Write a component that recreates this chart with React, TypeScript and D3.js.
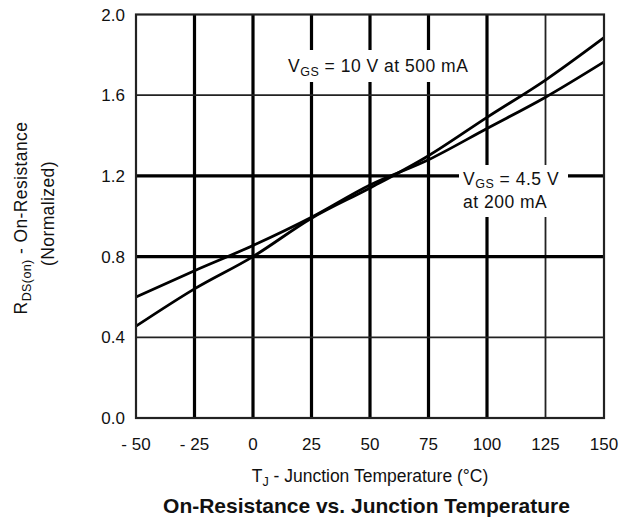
import React from "react";
import * as d3 from "d3";

const TEMPS = [-50, -25, 0, 25, 50, 75, 100, 125, 150];
const R_VGS_45V = [0.6, 0.73, 0.855, 0.995, 1.155, 1.28, 1.435, 1.59, 1.765];
const R_VGS_10V = [0.455, 0.64, 0.8, 0.99, 1.14, 1.3, 1.49, 1.675, 1.885];
const X_TICKS = [-50, -25, 0, 25, 50, 75, 100, 125, 150];
const X_TICK_LABELS = ["- 50", "- 25", "0", "25", "50", "75", "100", "125", "150"];
const Y_TICKS = [0, 0.4, 0.8, 1.2, 1.6, 2.0];
const Y_TICK_LABELS = ["0.0", "0.4", "0.8", "1.2", "1.6", "2.0"];

const FONT = "'Liberation Sans', Arial, Helvetica, sans-serif";

export default function App() {
  const W = 632;
  const H = 520;
  const x = d3.scaleLinear().domain([-50, 150]).range([136, 604]);
  const y = d3.scaleLinear().domain([0, 2]).range([418, 14.5]);

  const line = d3
    .line<number>()
    .x((_, i) => x(TEMPS[i]))
    .y((d) => y(d))
    .curve(d3.curveMonotoneX);

  const thickX = new Set([-25, 0, 25, 50, 75, 100]);
  const thickY = new Set([0.8, 1.2]);

  return (
    <svg
      width={W}
      height={H}
      style={{ position: "absolute", left: 0, top: 0, background: "#fff" }}
      fontFamily={FONT}
    >
      <rect x={0} y={0} width={W} height={H} fill="#fff" />
      {/* vertical grid */}
      {X_TICKS.slice(1, -1).map((t) => (
        <line
          key={"vx" + t}
          x1={x(t)}
          x2={x(t)}
          y1={y(2)}
          y2={y(0)}
          stroke={thickX.has(t) ? "#000" : "#222"}
          strokeWidth={thickX.has(t) ? 3.2 : 1.8}
        />
      ))}
      {/* horizontal grid */}
      {Y_TICKS.slice(1, -1).map((t) => (
        <line
          key={"hy" + t}
          x1={x(-50)}
          x2={x(150)}
          y1={y(t)}
          y2={y(t)}
          stroke={thickY.has(t) ? "#000" : "#222"}
          strokeWidth={thickY.has(t) ? 3.2 : 1.8}
        />
      ))}
      {/* annotation backgrounds */}
      <rect x={280} y={50} width={202} height={32} fill="#fff" />
      <rect x={459} y={165} width={109} height={52} fill="#fff" />

      {/* data lines */}
      <path d={line(R_VGS_45V) || ""} fill="none" stroke="#000" strokeWidth={2.8} />
      <path d={line(R_VGS_10V) || ""} fill="none" stroke="#000" strokeWidth={2.8} />

      {/* border */}
      <rect
        x={x(-50)}
        y={y(2)}
        width={x(150) - x(-50)}
        height={y(0) - y(2)}
        fill="none"
        stroke="#222"
        strokeWidth={2.2}
      />

      {/* annotations */}
      <text x={288} y={71.5} fontSize={17.5} letterSpacing={0.5} fill="#111">
        V
        <tspan fontSize={12.5} dy={4}>GS</tspan>
        <tspan dy={-4}> = 10 V at 500 mA</tspan>
      </text>
      <text x={463} y={185} fontSize={17.5} letterSpacing={0.5} fill="#111">
        V
        <tspan fontSize={12.5} dy={3}>GS</tspan>
        <tspan dy={-3}> = 4.5 V</tspan>
      </text>
      <text x={463} y={207.5} fontSize={17.5} letterSpacing={0.5} fill="#111">
        at 200 mA
      </text>

      {/* y ticks */}
      {Y_TICKS.map((t, i) => (
        <text
          key={"yt" + t}
          x={125}
          y={y(t)}
          dy="0.36em"
          textAnchor="end"
          fontSize={17}
          fill="#111"
        >
          {Y_TICK_LABELS[i]}
        </text>
      ))}
      {/* x ticks */}
      {X_TICKS.map((t, i) => (
        <text
          key={"xt" + t}
          x={x(t)}
          y={449.5}
          textAnchor="middle"
          fontSize={17}
          fill="#111"
        >
          {X_TICK_LABELS[i]}
        </text>
      ))}

      {/* x axis title */}
      <text x={370} y={482} textAnchor="middle" fontSize={17.5} fill="#111">
        T
        <tspan fontSize={12.5} dy={4}>J</tspan>
        <tspan dy={-4}> - Junction Temperature (°C)</tspan>
      </text>

      {/* y axis title */}
      <text
        transform="translate(26.5,218) rotate(-90)"
        textAnchor="middle"
        fontSize={17.5}
        letterSpacing={0.4}
        fill="#111"
      >
        R
        <tspan fontSize={12.5} dy={4}>DS(on)</tspan>
        <tspan dy={-4}> - On-Resistance</tspan>
      </text>
      <text
        transform="translate(54,213.5) rotate(-90)"
        textAnchor="middle"
        fontSize={17.5}
        letterSpacing={0.4}
        fill="#111"
      >
        (Normalized)
      </text>

      {/* chart title */}
      <text
        x={366.5}
        y={513}
        textAnchor="middle"
        fontSize={21}
        fontWeight="bold"
        fill="#111"
      >
        On-Resistance vs. Junction Temperature
      </text>
    </svg>
  );
}
